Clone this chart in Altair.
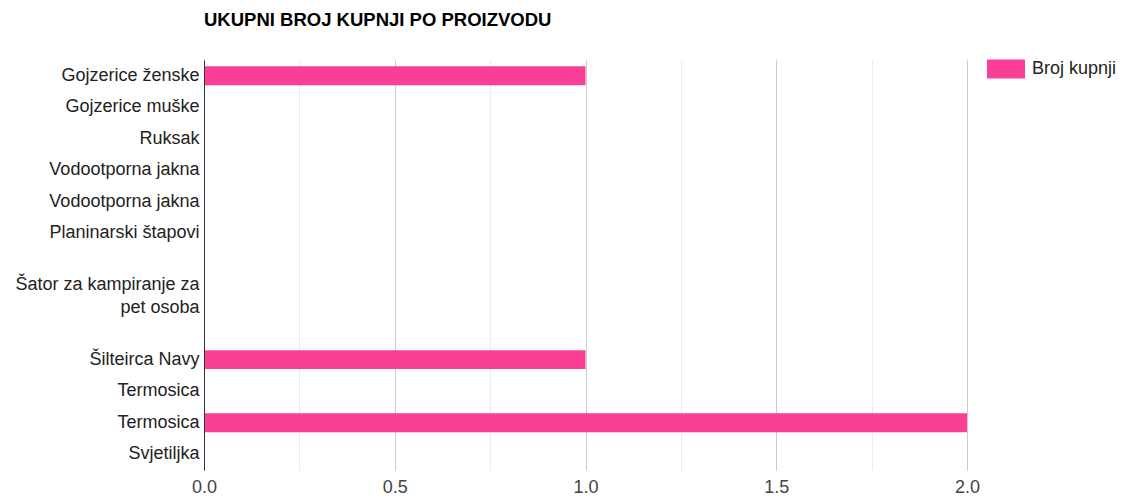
import json
import altair as alt
import pandas as pd

# Data (13 slots on the category axis; two unlabeled slots around the wrapped label)
keys = [str(i) for i in range(13)]
products = [
    "Gojzerice ženske",
    "Gojzerice muške",
    "Ruksak",
    "Vodootporna jakna",
    "Vodootporna jakna",
    "Planinarski štapovi",
    "",
    "Šator za kampiranje za pet osoba",
    "",
    "Šilteirca Navy",
    "Termosica",
    "Termosica",
    "Svjetiljka",
]
counts = [1, 0, 0, 0, 0, 0, 0, 0, 0, 1, 0, 2, 0]
series_name = "Broj kupnji"
x_ticks = [0, 0.25, 0.5, 0.75, 1.0, 1.25, 1.5, 1.75, 2.0]

df = pd.DataFrame({"key": keys, "value": counts, "series": series_name})


def wrap(s, limit=22):
    if len(s) <= limit:
        return s
    words = s.split(" ")
    lines, cur = [], ""
    for w in words:
        cand = (cur + " " + w).strip()
        if len(cand) > limit and cur:
            lines.append(cur)
            cur = w
        else:
            cur = cand
    lines.append(cur)
    return lines


wrapped = [wrap(p) for p in products]
label_js = json.dumps(wrapped, ensure_ascii=False)
label_expr = f"{label_js}[toNumber(datum.value)]"
multi_keys = [k for k, w in zip(keys, wrapped) if isinstance(w, list)]
multi_test = " || ".join(f"datum.value == '{k}'" for k in multi_keys) or "false"

FONT = "Liberation Sans"
LINE_H = 23

chart = (
    alt.Chart(df)
    .mark_bar()
    .encode(
        y=alt.Y(
            "key:N",
            sort=keys,
            scale=alt.Scale(paddingInner=0.4, paddingOuter=0.2),
            axis=alt.Axis(
                title=None,
                ticks=False,
                grid=False,
                labelExpr=label_expr,
                labelFont=FONT,
                labelFontSize=18,
                labelColor="#222222",
                labelPadding=5,
                labelLineHeight=LINE_H,
                labelOffset={
                    "condition": {"test": multi_test, "value": -LINE_H / 2},
                    "value": 0,
                },
                labelLimit=400,
                domainColor="#333333",
                domainWidth=1,
                zindex=2,
            ),
        ),
        x=alt.X(
            "value:Q",
            scale=alt.Scale(domain=[0, 2], nice=False),
            axis=alt.Axis(
                title=None,
                values=x_ticks,
                labelExpr="datum.value % 0.5 == 0 ? format(datum.value, '.1f') : ''",
                domain=False,
                ticks=False,
                grid=True,
                gridColor={
                    "condition": {"test": "datum.value % 0.5 == 0", "value": "#cccccc"},
                    "value": "#ebebeb",
                },
                labelFont=FONT,
                labelFontSize=18,
                labelColor="#444444",
                labelPadding=8,
                labelFlush=False,
            ),
        ),
        color=alt.Color(
            "series:N",
            scale=alt.Scale(range=["#f93f96"]),
            legend=alt.Legend(
                title=None,
                orient="none",
                legendX=783,
                legendY=-10,
                symbolType="M-1,-0.5L1,-0.5L1,0.5L-1,0.5Z",
                symbolSize=1444,
                symbolStrokeWidth=0,
                labelFont=FONT,
                labelFontSize=18,
                labelColor="#222222",
                labelOffset=7,
                padding=0,
            ),
        ),
    )
    .properties(
        width=763,
        height=410,
        title=alt.TitleParams(
            "UKUPNI BROJ KUPNJI PO PROIZVODU",
            anchor="start",
            frame="group",
            font=FONT,
            fontSize=18.5,
            fontWeight="bold",
            color="#000000",
            baseline="alphabetic",
            offset=6,
        ),
        autosize=alt.AutoSizeParams(type="none"),
        padding={"left": 196, "top": 52, "right": 150, "bottom": 40},
    )
    .configure_view(stroke=None)
)

chart.save("out.html", embed_options={"renderer": "svg", "actions": False})
